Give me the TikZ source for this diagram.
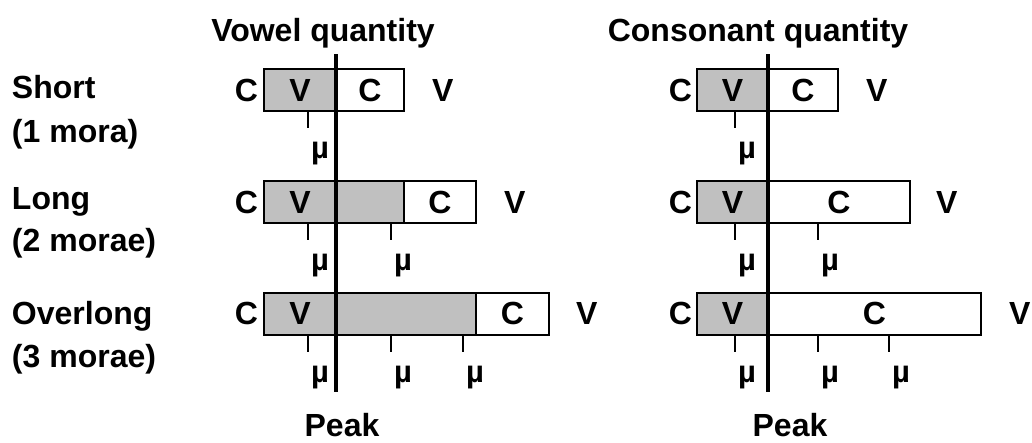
\documentclass[tikz,border=0pt]{standalone}
\usepackage{fontspec}
\setmainfont{Liberation Sans}
\usepackage{tikz}
\usetikzlibrary{positioning}
\definecolor{moragray}{RGB}{192,192,192}
\newcommand{\lab}{\bfseries\fontsize{32}{38}\selectfont}
\newcommand{\mufont}{\bfseries\fontsize{31}{36}\selectfont}
\tikzset{
  seg/.style={draw, line width=2pt, inner sep=0pt, outer sep=0pt, minimum height=42pt, font=\lab},
  vseg/.style={seg, fill=moragray},
  cseg/.style={seg, fill=white},
  letter/.style={inner sep=0pt, outer sep=0pt, font=\lab},
  mu/.style={inner sep=0pt, font=\mufont},
  tick/.style={line width=2.5pt},
  peakline/.style={line width=4pt},
}

\begin{document}
\begin{tikzpicture}[x=1pt, y=-1pt]
  \useasboundingbox (0,0) rectangle (1032,442);
  % titles and row labels
  \node[letter, anchor=base] (vtitle) at (323,41) {Vowel quantity};
  \node[letter, anchor=base] (ctitle) at (758,41) {Consonant quantity};
  \node[letter, anchor=base west] (short)  at (12,98)  {Short};
  \node[letter, anchor=base west] (short2) at (12,142) {(1 mora)};
  \node[letter, anchor=base west] (long)   at (12,209) {Long};
  \node[letter, anchor=base west] (long2)  at (12,251) {(2 morae)};
  \node[letter, anchor=base west] (over)   at (12,324) {Overlong};
  \node[letter, anchor=base west] (over2)  at (12,367) {(3 morae)};

  % vowel quantity
  \node[vseg, minimum width=72pt] (lv1) at (300,90) {V};
  \node[cseg, minimum width=68pt, right=0pt of lv1] (lc1) {C};
  \node[letter, left=6pt of lv1]  (lon1) {C};
  \node[letter, right=28pt of lc1] (lnx1) {V};

  \node[vseg, minimum width=72pt] (lv2) at (300,202) {V};
  \node[vseg, minimum width=68pt, right=0pt of lv2] (lg2) {};
  \node[cseg, minimum width=72pt, right=0pt of lg2] (lc2) {C};
  \node[letter, left=6pt of lv2]  (lon2) {C};
  \node[letter, right=28pt of lc2] (lnx2) {V};

  \node[vseg, minimum width=72pt] (lv3) at (300,313.5) {V};
  \node[vseg, minimum width=140pt, right=0pt of lv3] (lg3) {};
  \node[cseg, minimum width=73pt, right=0pt of lg3] (lc3) {C};
  \node[letter, left=6pt of lv3]  (lon3) {C};
  \node[letter, right=27pt of lc3] (lnx3) {V};

  % consonant quantity
  \node[vseg, minimum width=71pt] (rv1) at (732.5,90) {V};
  \node[cseg, minimum width=70pt, right=0pt of rv1] (rc1) {C};
  \node[letter, left=5pt of rv1]  (ron1) {C};
  \node[letter, right=28pt of rc1] (rnx1) {V};

  \node[vseg, minimum width=71pt] (rv2) at (732.5,202) {V};
  \node[cseg, minimum width=142pt, right=0pt of rv2] (rc2) {C};
  \node[letter, left=5pt of rv2]  (ron2) {C};
  \node[letter, right=26pt of rc2] (rnx2) {V};

  \node[vseg, minimum width=71pt] (rv3) at (732.5,313.5) {V};
  \node[cseg, minimum width=213pt, right=0pt of rv3] (rc3) {C};
  \node[letter, left=5pt of rv3]  (ron3) {C};
  \node[letter, right=28pt of rc3] (rnx3) {V};

  % morae
  \foreach \r/\dx in {1/8, 2/8, 2/91, 3/8, 3/91, 3/163} {
    \draw[tick] ([xshift=\dx pt]lv\r.south) -- ++(0,17);
    \node[mu] (lmu\r-\dx) at ([xshift=\dx pt+12pt, yshift=-43pt]lv\r.south) {µ};
  }
  \foreach \r/\dx in {1/2.5, 2/2.5, 2/85.5, 3/2.5, 3/85.5, 3/156.5} {
    \draw[tick] ([xshift=\dx pt]rv\r.south) -- ++(0,17);
    \node[mu] (rmu\r-\dx) at ([xshift=\dx pt+12pt, yshift=-43pt]rv\r.south) {µ};
  }

  % peaks
  \coordinate (ltop) at (336,54);
  \coordinate (lbot) at (336,392);
  \coordinate (rtop) at (768,54);
  \coordinate (rbot) at (768,392);
  \draw[peakline] (ltop) -- (lbot);
  \draw[peakline] (rtop) -- (rbot);
  \node[letter, anchor=base] (lpeak) at (342,436) {Peak};
  \node[letter, anchor=base] (rpeak) at (790,436) {Peak};
\end{tikzpicture}
\end{document}
